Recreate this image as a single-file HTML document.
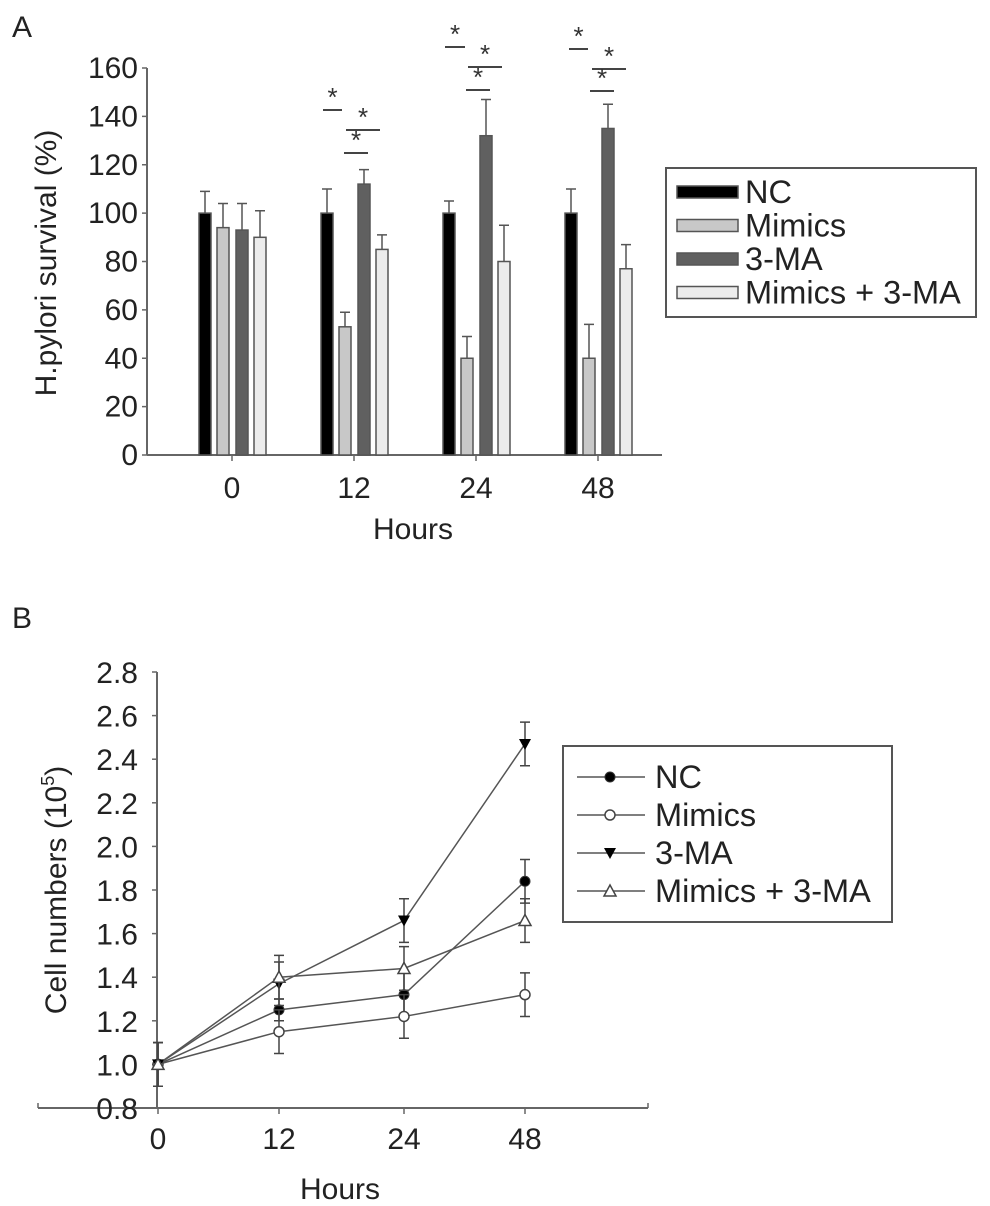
<!DOCTYPE html>
<html><head><meta charset="utf-8"><style>
html,body{margin:0;padding:0;background:#fff;}
svg{display:block;font-family:"Liberation Sans",Arial,sans-serif;}
</style></head><body>
<svg id="fig" width="990" height="1206" viewBox="0 0 990 1206">
<text x="12" y="37" font-size="30" fill="#222">A</text>
<text x="12" y="628" font-size="30" fill="#222">B</text>
<g id="chartA"></g>
<g id="chartB"></g>
</svg>
<script>
// ---- Chart A data ----
const hoursA = ["0","12","24","48"];
const seriesNames = ["NC","Mimics","3-MA","Mimics + 3-MA"];
const ncA = [100,100,100,100];
const mimicsA = [94,53,40,40];
const maA = [93,112,132,135];
const comboA = [90,85,80,77];
const ncErrA = [9,10,5,10];
const mimicsErrA = [10,6,9,14];
const maErrA = [11,6,15,10];
const comboErrA = [11,6,15,10];
const yTicksA = [0,20,40,60,80,100,120,140,160];

// ---- Chart B data ----
const hoursB = ["0","12","24","48"];
const ncB = [1.0,1.25,1.32,1.84];
const mimicsB = [1.0,1.15,1.22,1.32];
const maB = [1.0,1.37,1.66,2.47];
const comboB = [1.0,1.40,1.44,1.66];
const ncErrB = [0.1,0.05,0.1,0.1];
const mimicsErrB = [0.1,0.1,0.1,0.1];
const maErrB = [0.1,0.1,0.1,0.1];
const comboErrB = [0.1,0.1,0.1,0.1];
const yTicksB = ["0.8","1.0","1.2","1.4","1.6","1.8","2.0","2.2","2.4","2.6","2.8"];

const NS="http://www.w3.org/2000/svg";
function mk(tag,attrs,parent,txt){const e=document.createElementNS(NS,tag);for(const k in attrs)e.setAttribute(k,attrs[k]);if(txt!==undefined)e.textContent=txt;parent.appendChild(e);return e;}

// ---- Chart A ----
(function(){
const g=document.getElementById('chartA');
const y=v=>455-(v/160)*387;
const gx=i=>232+i*122;
const axisX=147;
mk('line',{x1:axisX,y1:y(160),x2:axisX,y2:455,stroke:'#666','stroke-width':2},g);
mk('line',{x1:axisX,y1:455,x2:662,y2:455,stroke:'#666','stroke-width':2},g);
yTicksA.forEach(t=>{
  const l=mk('line',{x1:axisX-5,y1:y(t),x2:axisX,y2:y(t),stroke:'#666','stroke-width':1.5},g);
  
  const tx=mk('text',{x:138,y:y(t)+10,'font-size':30,'text-anchor':'end',fill:'#222'},g,String(t));
  
  
});
hoursA.forEach((h,i)=>{
  mk('line',{x1:gx(i),y1:455,x2:gx(i),y2:461,stroke:'#666','stroke-width':1.5},g);
  const tx=mk('text',{x:gx(i),y:498,'font-size':30,'text-anchor':'middle',fill:'#222'},g,h);
  
  
});
const xt=mk('text',{x:413,y:539,'font-size':30,'text-anchor':'middle',fill:'#222'},g,'Hours');


const yt=mk('text',{x:0,y:0,'font-size':30,'text-anchor':'middle',fill:'#222',transform:'translate(56,263) rotate(-90)'},g,'H.pylori survival (%)');


const vals=[ncA,mimicsA,maA,comboA], errs=[ncErrA,mimicsErrA,maErrA,comboErrA];
const fills=['#000','#c8c8c8','#606060','#ececec'];
const offs=[-33,-15,4,22];
vals.forEach((s,si)=>{
  s.forEach((v,i)=>{
    const x=gx(i)+offs[si];
    const r=mk('rect',{x:x,y:y(v),width:12,height:455-y(v),fill:fills[si],stroke:'#555','stroke-width':1.5},g);
    
    
    const cx=x+6, top=y(v+errs[si][i]);
    const e=mk('path',{d:`M${cx},${y(v)}V${top}M${cx-5},${top}H${cx+5}`,stroke:'#555','stroke-width':1.5,fill:'none'},g);
    
  });
});
const sig=[[323,342,110],[346,380,130],[344,368,153],[445,465,47],[468,502,67],[466,490,90],[569,588,49],[592,626,69],[590,614,91]];
sig.forEach(s=>{
  mk('line',{x1:s[0],y1:s[2],x2:s[1],y2:s[2],stroke:'#444','stroke-width':2},g);
  const st=mk('text',{x:(s[0]+s[1])/2,y:s[2]-4,'font-size':26,'text-anchor':'middle',fill:'#333'},g,'*');
  
  
});
mk('rect',{x:666,y:168,width:310,height:149,fill:'#fff',stroke:'#555','stroke-width':2},g);
seriesNames.forEach((n,i)=>{
  const ly=192+i*33.5;
  mk('rect',{x:677,y:ly-6,width:61,height:12,fill:fills[i],stroke:'#555','stroke-width':1.5},g);
  const t=mk('text',{x:745,y:ly+11,'font-size':32.5,fill:'#222'},g,n);
  
  
});
})();

// ---- Chart B ----
(function(){
const g=document.getElementById('chartB');
const y=v=>1108-(v-0.8)*218;
const xs=i=>[158,279,404,525][i];
mk('line',{x1:157,y1:y(2.8),x2:157,y2:1108,stroke:'#666','stroke-width':2},g);
mk('line',{x1:38,y1:1108,x2:648,y2:1108,stroke:'#666','stroke-width':2},g);
mk('line',{x1:38,y1:1108,x2:38,y2:1103,stroke:'#666','stroke-width':1.5},g);
mk('line',{x1:648,y1:1108,x2:648,y2:1103,stroke:'#666','stroke-width':1.5},g);
yTicksB.forEach(t=>{
  const v=parseFloat(t);
  mk('line',{x1:152,y1:y(v),x2:157,y2:y(v),stroke:'#666','stroke-width':1.5},g);
  const tx=mk('text',{x:138,y:y(v)+11,'font-size':30,'text-anchor':'end',fill:'#222'},g,t);
  
  
});
hoursB.forEach((h,i)=>{
  mk('line',{x1:xs(i),y1:1108,x2:xs(i),y2:1114,stroke:'#666','stroke-width':1.5},g);
  const tx=mk('text',{x:xs(i),y:1149,'font-size':30,'text-anchor':'middle',fill:'#222'},g,h);
  
  
});
const xt=mk('text',{x:340,y:1199,'font-size':30,'text-anchor':'middle',fill:'#222'},g,'Hours');


const yt=mk('text',{x:0,y:0,'font-size':30,'text-anchor':'middle',fill:'#222',transform:'translate(66,890) rotate(-90)'},g);


yt.innerHTML='Cell numbers (10<tspan font-size="18" dy="-12">5</tspan><tspan dy="12">)</tspan>';
const vals=[ncB,mimicsB,maB,comboB], errs=[ncErrB,mimicsErrB,maErrB,comboErrB];
function marker(type,cx,cy,parent){
  let m;
  if(type===0) m=mk('circle',{cx:cx,cy:cy,r:5,fill:'#000',stroke:'#333','stroke-width':1},parent);
  else if(type===1) m=mk('circle',{cx:cx,cy:cy,r:5,fill:'#fff',stroke:'#444','stroke-width':1.5},parent);
  else if(type===2) m=mk('path',{d:`M${cx-6},${cy-5}H${cx+6}L${cx},${cy+6}Z`,fill:'#000'},parent);
  else m=mk('path',{d:`M${cx-6},${cy+5}H${cx+6}L${cx},${cy-6}Z`,fill:'#fff',stroke:'#444','stroke-width':1.5},parent);
  return m;
}
vals.forEach((s,si)=>{
  const p=mk('polyline',{points:s.map((v,i)=>xs(i)+','+y(v)).join(' '),fill:'none',stroke:'#555','stroke-width':1.5},g);
  
  
});
vals.forEach((s,si)=>{
  s.forEach((v,i)=>{
    const cx=xs(i), a=y(v+errs[si][i]), b=y(v-errs[si][i]);
    const e=mk('path',{d:`M${cx},${a}V${b}M${cx-5},${a}H${cx+5}M${cx-5},${b}H${cx+5}`,stroke:'#444','stroke-width':1.5,fill:'none'},g);
    
    const m=marker(si,cx,y(v),g);
    
    
  });
});
mk('rect',{x:563,y:746,width:329,height:176,fill:'#fff',stroke:'#555','stroke-width':2},g);
seriesNames.forEach((n,i)=>{
  const ly=777+i*38;
  mk('line',{x1:577,y1:ly,x2:645,y2:ly,stroke:'#555','stroke-width':1.5},g);
  const m=marker(i,610,ly,g);
  
  const t=mk('text',{x:655,y:ly+11,'font-size':32.5,fill:'#222'},g,n);
  
  
});
})();
</script>
</body></html>
